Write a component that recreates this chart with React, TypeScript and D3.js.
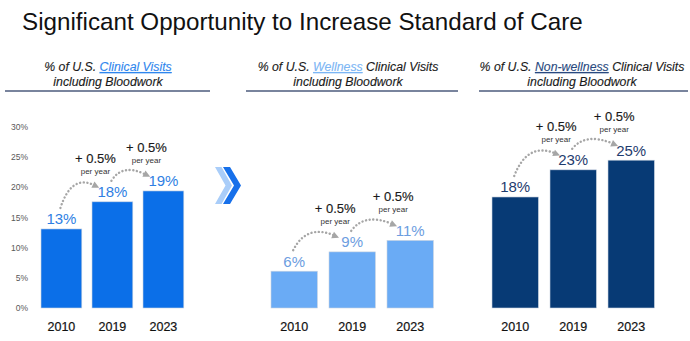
import React from 'react';
import * as d3 from 'd3';

const years = ['2010', '2019', '2023'];
const clinicalValues = [13.1, 17.6, 19.4];
const clinicalLabels = ['13%', '18%', '19%'];
const wellnessValues = [6.1, 9.3, 11.2];
const wellnessLabels = ['6%', '9%', '11%'];
const nonWellnessValues = [18.4, 22.9, 24.5];
const nonWellnessLabels = ['18%', '23%', '25%'];
const yTicks = [0, 5, 10, 15, 20, 25, 30];
const growthLabel = '+ 0.5%';
const growthSub = 'per year';
const title = 'Significant Opportunity to Increase Standard of Care';

const FONT = 'Liberation Sans, Arial, Helvetica, sans-serif';

type Panel = {
  values: number[];
  labels: string[];
  range: [number, number];
  barColor: string;
  labelColor: string;
  header: { pre: string; hl: string; post: string; hlColor: string };
  headerCx: number;
  line: [number, number];
};

const panels: Panel[] = [
  {
    values: clinicalValues,
    labels: clinicalLabels,
    range: [30.8, 194],
    barColor: '#0b6fe8',
    labelColor: '#2f7fe3',
    header: { pre: '% of U.S. ', hl: 'Clinical Visits', post: '', hlColor: '#2f86ee' },
    headerCx: 108,
    line: [5, 210],
  },
  {
    values: wellnessValues,
    labels: wellnessLabels,
    range: [259.4, 445],
    barColor: '#6aabf5',
    labelColor: '#6c9de0',
    header: { pre: '% of U.S. ', hl: 'Wellness', post: ' Clinical Visits', hlColor: '#7cb6f5' },
    headerCx: 348,
    line: [246, 458],
  },
  {
    values: nonWellnessValues,
    labels: nonWellnessLabels,
    range: [480.4, 666],
    barColor: '#073a75',
    labelColor: '#1f3c6e',
    header: { pre: '% of U.S. ', hl: 'Non-wellness', post: ' Clinical Visits', hlColor: '#2a4a80' },
    headerCx: 582,
    line: [479, 688],
  },
];

const y = d3.scaleLinear().domain([0, 30]).range([308, 127]);

function Annotation({ x0, y0, x1, y1, tx, ty }: any) {
  const sx = x0, sy = y0, ex = x1, ey = y1;
  const cx = sx + (ex - sx) * 0.3;
  const cy = Math.min(sy, ey) - 13;
  const p = d3.path();
  p.moveTo(sx, sy);
  p.quadraticCurveTo(cx, cy, ex - 3, ey - 1.5);
  const dx = ex - cx, dy = ey - cy;
  const len = Math.hypot(dx, dy);
  const ux = dx / len, uy = dy / len;
  const L = 7, W = 3.5;
  const tip = [ex + ux * 2, ey + uy * 2];
  const base = [tip[0] - ux * L, tip[1] - uy * L];
  const a = [base[0] - uy * W, base[1] + ux * W];
  const b = [base[0] + uy * W, base[1] - ux * W];
  return (
    <g>
      <path d={p.toString()} fill="none" stroke="#a6a6a6" strokeWidth={2.4}
        strokeDasharray="0.1 3.6" strokeLinecap="round" />
      <polygon points={`${tip[0]},${tip[1]} ${a[0]},${a[1]} ${b[0]},${b[1]}`} fill="#a6a6a6" />
      <text x={tx} y={ty} textAnchor="middle" fontSize={13} fill="#1a1a1a" stroke="#1a1a1a" strokeWidth={0.15} fontFamily={FONT}>{growthLabel}</text>
      <text x={tx} y={ty + 11} textAnchor="middle" fontSize={8} fill="#333" fontFamily={FONT}>{growthSub}</text>
    </g>
  );
}

function PanelView({ panel }: { panel: Panel }) {
  const x = d3.scaleBand<string>().domain(years).range(panel.range).paddingInner(0.2).paddingOuter(0.2);
  const bw = x.bandwidth();
  const cx = (yr: string) => (x(yr) as number) + bw / 2;
  return (
    <g>
      <g stroke="#1a1a1a" strokeWidth={0.12}>
        <text x={panel.headerCx} y={71} textAnchor="middle" fontSize={12.3} fontStyle="italic" fill="#1a1a1a" fontFamily={FONT}>
          <tspan>{panel.header.pre}</tspan>
          <tspan fill={panel.header.hlColor} stroke={panel.header.hlColor} textDecoration="underline" style={{ textDecoration: 'underline' }}>{panel.header.hl}</tspan>
          <tspan>{panel.header.post}</tspan>
        </text>
        <text x={panel.headerCx} y={86} textAnchor="middle" fontSize={12.3} fontStyle="italic" fill="#1a1a1a" fontFamily={FONT}>including Bloodwork</text>
      </g>
      <line x1={panel.line[0]} x2={panel.line[1]} y1={91} y2={91} stroke="#4d5b7c" strokeWidth={1.3} />
      {years.map((yr, i) => (
        <g key={yr}>
          <rect x={x(yr)} y={y(panel.values[i])} width={bw} height={y(0) - y(panel.values[i])}
            fill={panel.barColor} stroke="#c9d3e0" strokeWidth={0.6} />
          <text x={cx(yr)} y={y(panel.values[i]) - 4.5} textAnchor="middle" fontSize={15} fill={panel.labelColor} fontFamily={FONT}>{panel.labels[i]}</text>
          <text x={cx(yr)} y={331} textAnchor="middle" fontSize={12.5} fill="#111" stroke="#111" strokeWidth={0.2} fontFamily={FONT}>{yr}</text>
        </g>
      ))}
      {[0, 1].map((i) => (
        <Annotation key={i}
          x0={cx(years[i]) - 1} y0={y(panel.values[i]) - 21}
          x1={cx(years[i + 1]) - 15} y1={y(panel.values[i + 1]) - 15}
          tx={cx(years[i + 1]) - 17} ty={y(panel.values[i + 1]) - 39} />
      ))}
    </g>
  );
}

export default function App() {
  return (
    <svg width={690} height={341} style={{ position: 'absolute', left: 0, top: 0, background: '#fff' }}>
      <rect width={690} height={341} fill="#fff" />
      <text x={22} y={30} fontSize={24.2} fill="#111" fontFamily={FONT}>{title}</text>
      {yTicks.map((t) => (
        <text key={t} x={28} y={y(t) + 3} textAnchor="end" fontSize={8.5} fill="#595959" fontFamily={FONT}>{`${t}%`}</text>
      ))}
      <polygon points="215,167 221.5,167 232,185.5 221.5,204 215,204 225.5,185.5" fill="#a9cdf9" />
      <polygon points="223,167 230,167 241,185.5 230,204 223,204 234,185.5" fill="#1770ea" />
      {panels.map((p, i) => <PanelView key={i} panel={p} />)}
    </svg>
  );
}
